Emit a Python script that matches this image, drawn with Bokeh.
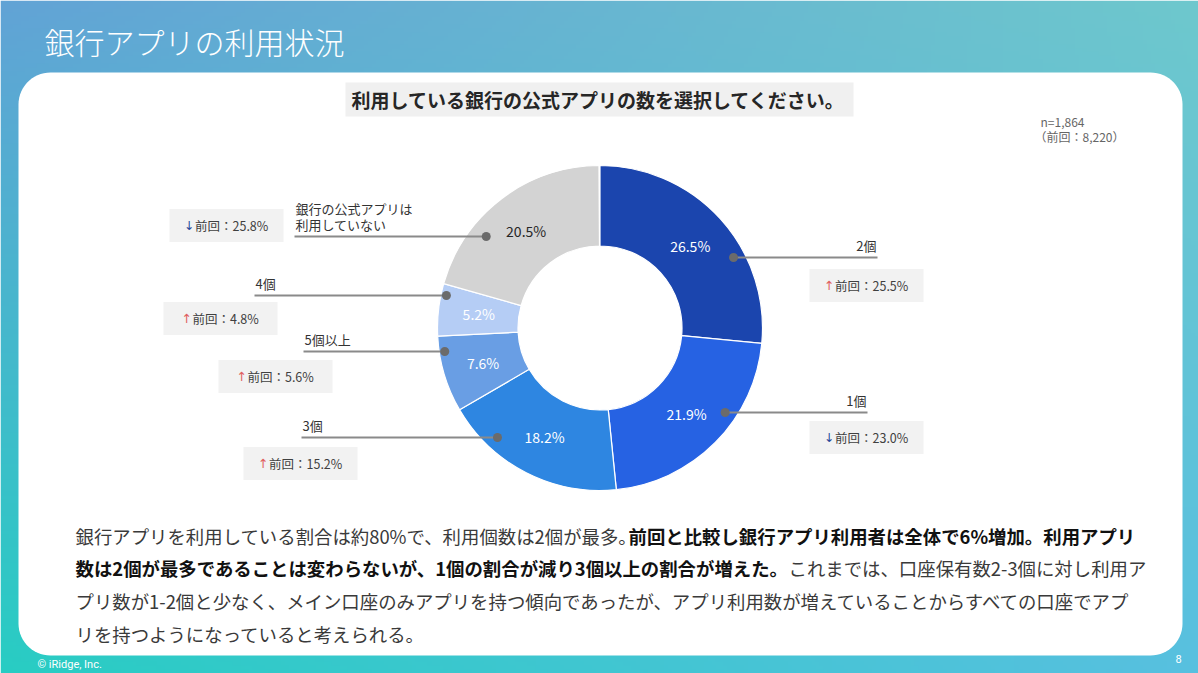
import numpy as np
from bokeh.plotting import figure
from bokeh.models import Range1d
from bokeh.core.properties import value
from bokeh.embed import file_html
from bokeh.resources import INLINE

# ---------------- data ----------------
title_text = "銀行アプリの利用状況"
question = "利用している銀行の公式アプリの数を選択してください。"
categories = ["2個", "1個", "3個", "5個以上", "4個", "銀行の公式アプリは\n利用していない"]
shares = [26.5, 21.9, 18.2, 7.6, 5.2, 20.5]          # 今回 (%)
previous = [25.5, 23.0, 15.2, 5.6, 4.8, 25.8]        # 前回 (%)
n_now = "1,864"
n_prev = "8,220"
paragraph = [
    [("銀行アプリを利用している割合は約80%で、利用個数は2個が最多。", "normal"),
     ("前回と比較し銀行アプリ利用者は全体で6%増加。利用アプリ", "bold")],
    [("数は2個が最多であることは変わらないが、1個の割合が減り3個以上の割合が増えた。", "bold"),
     ("これまでは、口座保有数2-3個に対し利用ア", "normal")],
    [("プリ数が1-2個と少なく、メイン口座のみアプリを持つ傾向であったが、アプリ利用数が増えていることからすべての口座でアプ", "normal")],
    [("リを持つようになっていると考えられる。", "normal")],
]
copyright_text = "© iRidge, Inc."
page_no = "8"

# ---------------- styles / layout ----------------
slice_colors = ["#1b45ae", "#2662e3", "#2e86e1", "#699ee4", "#b5cdf5", "#d3d3d3"]
pct_colors = ["white", "white", "white", "white", "white", "#262626"]
FONT = value("Noto Sans CJK JP")
W, H = 1198, 673
REF_H = 673


def Y(ry):
    return REF_H - ry


CX, CY = 599.5, 327.5          # donut centre (reference px)
R_OUT, R_IN = 162.5, 82.0
R_LABEL = 122.0

# callout layout: leader y, side, free end of leader, dot radius, box centre
leader_y = [257, 412, 437, 351, 295, 236]
side = [1, 1, -1, -1, -1, -1]
line_end = [877, 867, 301, 303, 254, 294]
dot_r = [151, 151, 150, 157, 157, 146]
box_c = [(866, 285), (866, 437), (300, 463), (275, 376), (220, 318), (226, 225)]
BOX_W, BOX_H = 114, 33

p = figure(width=W, height=H, x_range=Range1d(0, W), y_range=Range1d(0, H),
           output_backend="svg", toolbar_location=None, min_border=0,
           x_axis_location=None, y_axis_location=None)
p.grid.visible = False
p.outline_line_color = None
p.background_fill_color = "white"
p.border_fill_color = "white"

# ---------- background gradient ----------
nx, ny = 300, 170
tl = np.array([98, 163, 214], float)
tr = np.array([110, 200, 205], float)
bl = np.array([40, 205, 195], float)
br = np.array([88, 192, 224], float)
tx = (np.arange(nx) + 0.5) / nx
ty = (np.arange(ny) + 0.5) / ny          # 0 bottom -> 1 top
TX, TY = np.meshgrid(tx, ty)
TX = TX[..., None]
TY = TY[..., None]
col = bl * (1 - TX) * (1 - TY) + br * TX * (1 - TY) + tl * (1 - TX) * TY + tr * TX * TY
img = np.empty((ny, nx), dtype=np.uint32)
view = img.view(dtype=np.uint8).reshape((ny, nx, 4))
view[..., :3] = np.clip(col, 0, 255).astype(np.uint8)
view[..., 3] = 255
p.image_rgba(image=[img], x=0, y=0, dw=W, dh=H)

# ---------- white rounded panel ----------
def rrect(x0, y0, x1, y1, r, n=16):
    xs, ys = [], []
    for (ccx, ccy, a0) in [(x1 - r, y0 + r, -90), (x1 - r, y1 - r, 0), (x0 + r, y1 - r, 90), (x0 + r, y0 + r, 180)]:
        for a in np.linspace(a0, a0 + 90, n):
            xs.append(ccx + r * np.cos(np.radians(a)))
            ys.append(Y(ccy + r * np.sin(np.radians(a))))
    return xs, ys

px, py = rrect(18, 72, 1182, 655, 32)
p.patch(px, py, fill_color="white", line_color=None)

# ---------- title ----------
p.text(x=[44], y=[Y(40)], text=[title_text], text_color="white",
       text_font=value("'Noto Sans CJK JP Light', 'Noto Sans CJK JP'"),
       text_font_size=value("30px"), text_baseline="middle", text_align="left")

# ---------- question box ----------
p.quad(left=[345], right=[853], top=[Y(82)], bottom=[Y(116)], fill_color="#f0f0f0", line_color=None)
p.text(x=[598], y=[Y(99)], text=[question], text_color="#262626", text_font=FONT,
       text_font_style="bold", text_font_size=value("19px"), text_baseline="middle", text_align="center")

# ---------- n ----------
p.text(x=[1040, 1034], y=[Y(121), Y(136)], text=["n=" + n_now, "（前回：" + n_prev + "）"],
       text_color="#666666", text_font=FONT, text_font_size=value("12px"),
       text_baseline="middle", text_align="left")

# ---------- donut ----------
fr = np.array(shares) / 100.0
cum = np.concatenate([[0], np.cumsum(fr)])
start = np.pi / 2 - 2 * np.pi * cum[:-1]
end = np.pi / 2 - 2 * np.pi * cum[1:]
p.annular_wedge(x=CX, y=Y(CY), inner_radius=R_IN, outer_radius=R_OUT,
                start_angle=list(start), end_angle=list(end), direction="clock",
                fill_color=slice_colors, line_color="white", line_width=1.2)

mid = np.pi / 2 - 2 * np.pi * (cum[:-1] + fr / 2)
lx = CX + R_LABEL * np.cos(mid)
ly = Y(CY) + R_LABEL * np.sin(mid)
p.text(x=list(lx), y=list(ly), text=[f"{v:.1f}%" for v in shares], text_color=pct_colors,
       text_font=FONT, text_font_size=value("14px"), text_baseline="middle", text_align="center")

# ---------- callouts ----------
dx_list, dy_list = [], []
for i in range(len(shares)):
    dyy = leader_y[i] - CY
    dxx = CX + side[i] * np.sqrt(dot_r[i] ** 2 - dyy ** 2)
    dx_list.append(dxx)
    dy_list.append(Y(leader_y[i]))
p.segment(x0=dx_list, y0=dy_list, x1=line_end, y1=dy_list, line_color="#8a8a8a", line_width=2)
p.scatter(x=dx_list, y=dy_list, size=9, marker="circle", fill_color="#6b6b6b", line_color=None)

for i, cat in enumerate(categories):
    lines = cat.split("\n")
    align = "right" if side[i] > 0 else "left"
    xx = line_end[i] - 1 if side[i] > 0 else line_end[i] + 1
    ys = [Y(leader_y[i] - 12 - 16 * (len(lines) - 1 - k)) for k in range(len(lines))]
    p.text(x=[xx] * len(lines), y=ys, text=lines, text_color="#333333", text_font=FONT,
           text_font_size=value("13px"), text_baseline="middle", text_align=align)

bx = [c[0] for c in box_c]
by = [c[1] for c in box_c]
p.quad(left=[x - BOX_W / 2 for x in bx], right=[x + BOX_W / 2 for x in bx],
       top=[Y(y - BOX_H / 2) for y in by], bottom=[Y(y + BOX_H / 2) for y in by],
       fill_color="#f2f2f2", line_color=None)
FS = 12.5
for i in range(len(shares)):
    s = f"{previous[i]:.1f}%"
    ndig = sum(ch.isdigit() for ch in s)
    w = FS * (3 + ndig * 0.55 + 0.27 + 0.84)
    gw = 9 + w
    x0 = bx[i] - gw / 2
    up = shares[i] > previous[i]
    p.text(x=[x0 + 3], y=[Y(by[i]) + 0.5], text=["↑" if up else "↓"],
           text_color="#e06060" if up else "#2b4a9a", text_font=value("DejaVu Sans"),
           text_font_size=value("12.5px"), text_baseline="middle", text_align="center")
    p.text(x=[x0 + 9], y=[Y(by[i])], text=["前回：" + s], text_color="#404040", text_font=FONT,
           text_font_size=value("12.5px"), text_baseline="middle", text_align="left")

# ---------- paragraph ----------
seg_x = [[75, 628], [75, 788], [75], [75]]
line_y = [535, 567, 600, 633]
for li, segs in enumerate(paragraph):
    for si, (txt, style) in enumerate(segs):
        p.text(x=[seg_x[li][si]], y=[Y(line_y[li])], text=[txt],
               text_color="#111111" if style == "bold" else "#3a3a3a",
               text_font=FONT, text_font_style=style, text_font_size=value("18.4px"),
               text_baseline="middle", text_align="left")

# ---------- footer ----------
p.text(x=[37], y=[Y(664)], text=[copyright_text], text_color="white", text_font=value("Roboto"),
       text_font_size=value("11px"), text_baseline="middle", text_align="left")
p.text(x=[1178], y=[Y(658)], text=[page_no], text_color="white", text_font=value("Roboto"),
       text_font_size=value("11px"), text_baseline="middle", text_align="center")

open("out.html", "w").write(file_html(p, INLINE))
